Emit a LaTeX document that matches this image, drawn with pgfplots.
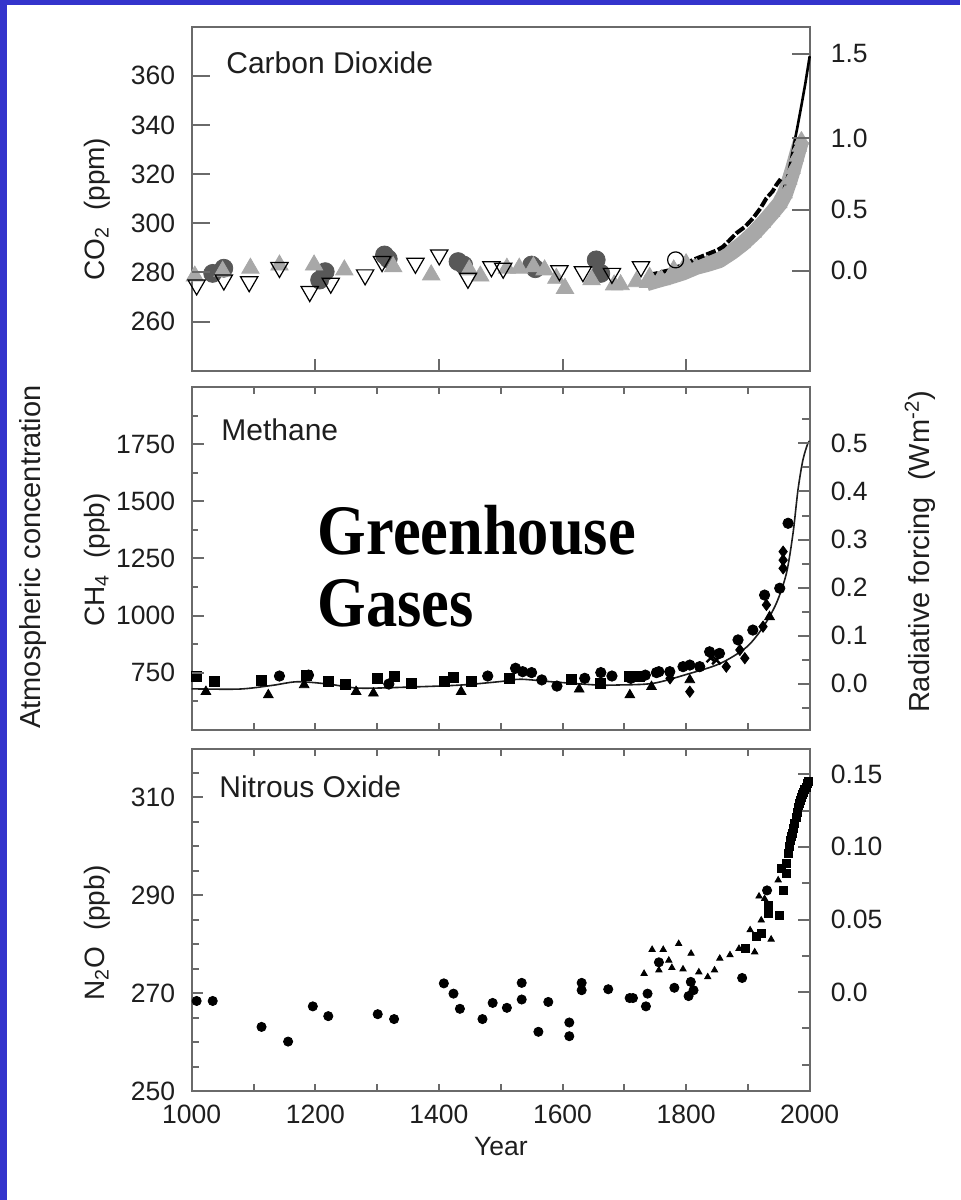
\documentclass[border=0pt]{standalone}
\usepackage{fontspec}
\setmainfont{Liberation Sans}
\newfontfamily\ghfont{Liberation Serif}
\usepackage{graphicx}
\usepackage{pgfplots}
\pgfplotsset{compat=1.18}

\definecolor{slideblue}{HTML}{3434CC}
\definecolor{framecol}{HTML}{6A6A6A}
\definecolor{txt}{HTML}{1E1E1E}
\definecolor{darkdot}{HTML}{585858}
\definecolor{lightdot}{HTML}{A8A8A8}

\newcommand\ticksize{\fontsize{13.25}{15}\selectfont}
\newcommand\labsize{\fontsize{14}{16}\selectfont}

\pgfplotsset{
  panel/.style={scale only axis, width=309pt, xmin=1000, xmax=2000, clip=false,
    axis line style={framecol, line width=1pt},
    every tick/.style={framecol, line width=1pt},
    tick label style={font=\ticksize, text=txt},
    tick align=inside},
  frame/.style={panel, ytick=\empty, xticklabel style={yshift=-3.6pt}},
  lefty/.style={panel, axis line style={draw=none}, xtick=\empty,
    ytick pos=left, yticklabel pos=left, yticklabel style={xshift=-4.8pt}},
  righty/.style={panel, axis line style={draw=none}, xtick=\empty,
    ytick pos=right, yticklabel pos=right, yticklabel style={xshift=7pt}},
}

\begin{document}
\begin{tikzpicture}
\useasboundingbox (0,0) rectangle (480pt,600pt);
\fill[slideblue] (0,0) rectangle (480pt,600pt);
\fill[white] (3.7pt,0) rectangle (480pt,597.5pt);

% ---------------- Carbon dioxide ----------------
\begin{axis}[frame, at={(95.85pt,414.65pt)}, anchor=south west, height=172pt,
  ymin=240, ymax=380, xtick={1200,1400,1600,1800}, xticklabels={},
  xtick pos=left, major tick length=6pt]
\addplot[only marks, mark=*, mark size=4.5pt, mark options={fill=darkdot, draw=darkdot}]
  coordinates {(1034,279.6) (1052,281.7) (1207,276.9) (1216,280.3) (1312,287.1)
  (1318,285.5) (1431,284.4) (1440,283) (1550,283.0) (1556,281.5) (1654.5,285.1) (1662,279.6)};
\addplot[only marks, mark=triangle*, mark size=5pt, mark options={fill=lightdot, draw=lightdot}]
  coordinates {(1005,278.5) (1050,280.5) (1095,281.7) (1142,283) (1198,283) (1247,281)
  (1326,282.3) (1387.5,279) (1449,281) (1467,278.5) (1510,281.7) (1530,281.7)
  (1553,282.3) (1571,281) (1590,277.6) (1604,273.5) (1647,277) (1683.5,274.9)
  (1694,275) (1719.5,276.2) (1741,278) (1760,277) (1780,281) (1800,283.5)};
\addplot[lightdot, line width=8pt, line join=round, mark=triangle*, mark size=4.2pt,
  mark options={fill=lightdot, draw=lightdot, line width=0.4pt}]
  coordinates {(1736,275.6) (1755,277) (1773.6,278.3) (1795,280) (1816.7,282.3)
  (1835,283.5) (1854,285) (1875,288.5) (1892,291.8) (1910,296) (1924.5,300)
  (1940,304.5) (1951.5,308) (1960,312) (1967.6,317.6) (1973,322) (1978.5,327)
  (1983,331) (1986.6,333.9)};
\addplot[black, line width=2pt, dash pattern=on 5pt off 1.2pt]
  coordinates {(1738.5,279) (1750,279.5) (1762.7,280.3) (1775,281) (1787,282.3)
  (1800,283.5) (1811,285.1) (1825,286.5) (1838,287.8) (1850,289) (1860,290.5)
  (1870,293) (1881,295.9) (1895,298.5) (1908,302) (1920,306) (1930,310.2)
  (1940,313) (1946,315.6) (1953,318)};
\addplot[only marks, mark=triangle, mark size=5pt, mark options={rotate=180, draw=black, line width=0.6pt}]
  coordinates {(1008,274.9) (1052,276.9) (1093,276.2) (1142,282) (1191,272.2)
  (1225,275.6) (1280.6,279) (1308,284.4) (1362,283.7) (1400.5,287.1) (1447,277.6)
  (1485,282.3) (1504,281.7) (1595,280.7) (1633,280.3) (1680,279.6) (1727,282.3)};
\addplot[only marks, mark=o, mark size=4pt, mark options={draw=black, line width=0.6pt}]
  coordinates {(1783,285.1)};
\addplot[black, line width=1.3pt]
  coordinates {(1958,314) (1965,320) (1973,330) (1980,339) (1987,348.5) (1993,357) (2000,368)};
\end{axis}
\begin{axis}[lefty, at={(95.85pt,414.65pt)}, anchor=south west, height=172pt,
  ymin=240, ymax=380, ytick={260,280,300,320,340,360},
  yticklabels={260,280,300,320,340,360}, major tick length=9pt]
\end{axis}
\begin{axis}[righty, at={(95.85pt,414.65pt)}, anchor=south west, height=172pt,
  ymin=240, ymax=380, ytick={280.7,305.6,334.5,369},
  yticklabels={0.0,0.5,1.0,1.5}, major tick length=9pt]
\end{axis}

% ---------------- Methane ----------------
\begin{axis}[frame, at={(95.85pt,235pt)}, anchor=south west, height=171.5pt,
  ymin=500, ymax=2000, xtick={1100,1200,...,1900}, xticklabels={},
  xtick pos=both, major tick length=3.5pt]
\addplot[color=txt, line width=0.8pt, smooth, tension=0.5]
  coordinates {(1000,680) (1077,679) (1130,695) (1171,711) (1221,701) (1272,683)
  (1366,689) (1438,697) (1500,712) (1532,722) (1582,711) (1654.5,697) (1692.7,697)
  (1746.6,704) (1800.6,743) (1854.4,790) (1897.6,862) (1924.5,950) (1946,1054)
  (1962.3,1185) (1973,1360) (1981,1549.5) (1989,1680.7) (1997,1753.7) (2000,1762)};
\addplot[only marks, mark=square*, mark size=2.5pt, black]
  coordinates {(1008,733) (1036,711) (1113,719) (1185,740) (1221,711) (1249,700)
  (1301,726) (1328,733) (1355,704) (1409,711) (1424,730) (1452,711) (1514,726)
  (1615,722) (1662,704) (1709,733) (1725,733)};
\addplot[only marks, mark=*, mark size=2.6pt, black]
  coordinates {(1142,736) (1189,740) (1319,701) (1479,736) (1524,770) (1535.5,755)
  (1550,751) (1566.5,719) (1591,692) (1636,726) (1662,751) (1680,736) (1710.5,726)
  (1734,740) (1752,751) (1756,755) (1773.6,755) (1795,777) (1806,784) (1822,777)
  (1838,842) (1854,835) (1884,894) (1908,937) (1927,1090) (1951.5,1120) (1965,1404)};
\addplot[only marks, mark=triangle*, mark size=2.8pt, black]
  coordinates {(1023,667.5) (1124,653) (1182,697) (1266,667.5) (1294,660.5)
  (1436,667.5) (1627,678) (1709,653) (1744,689) (1806,719) (1935,995)};
\addplot[only marks, mark=diamond*, mark size=2.8pt, black]
  coordinates {(1774,726) (1806,667.5) (1865,777) (1895,814) (1930,1047)
  (1957,1207) (1957,1243) (1957,1280) (1924.5,952) (1887,850)};
\addplot[only marks, mark=x, mark size=3pt, black, mark options={line width=1.2pt}]
  coordinates {(1849,806) (1840,815)};
\end{axis}
\begin{axis}[lefty, at={(95.85pt,235pt)}, anchor=south west, height=171.5pt,
  ymin=500, ymax=2000, ytick={750,1000,1250,1500,1750},
  yticklabels={750,1000,1250,1500,1750},
  minor ytick={625,875,1125,1375,1625,1875},
  major tick length=6pt, minor tick length=3pt]
\end{axis}
\begin{axis}[righty, at={(95.85pt,235pt)}, anchor=south west, height=171.5pt,
  ymin=500, ymax=2000, ytick={703,913,1123,1333,1543,1753},
  yticklabels={0.0,0.1,0.2,0.3,0.4,0.5},
  minor ytick={598,808,1018,1228,1438,1648,1858},
  major tick length=6pt, minor tick length=4pt]
\end{axis}

% ---------------- Nitrous oxide ----------------
\begin{axis}[frame, at={(95.85pt,54.5pt)}, anchor=south west, height=171.25pt,
  ymin=250, ymax=320, xtick={1000,1200,...,2000},
  xticklabels={1000,1200,1400,1600,1800,2000},
  minor xtick={1100,1300,1500,1700,1900},
  xtick pos=both, xticklabel pos=left,
  major tick length=3.5pt, minor tick length=3.5pt]
\addplot[only marks, mark=*, mark size=2.3pt, black]
  coordinates {(1008,268.4) (1034,268.4) (1113,263.1) (1156,260.1) (1196,267.3)
  (1221,265.3) (1301,265.7) (1327.5,264.7) (1408,272) (1423.6,269.9) (1434,266.8)
  (1470.5,264.7) (1487,268) (1510,267) (1534,272.1) (1534,268.7) (1561,262.1)
  (1577,268.2) (1611,264) (1611,261.2) (1631,272.1) (1631,270.6) (1674,270.8)
  (1708.7,269) (1714,269) (1735,267.3) (1737.6,269.9) (1756,276.3) (1781,271.1)
  (1804,269.4) (1807.6,272.3) (1812,270.6) (1890.7,273.1) (1931,291)};
\addplot[only marks, mark=triangle*, mark size=1.8pt, black]
  coordinates {(1732,274) (1745,278.9) (1763,278.9) (1756,274.7) (1772,276.7)
  (1788,280.1) (1777,275.2) (1795,274.9) (1808,278.1) (1820.6,274.3) (1835,273.3)
  (1846,274.7) (1854.5,277.1) (1871,277.8) (1885.6,279.1) (1903.6,282.9)
  (1911,278.4) (1921.6,284.9) (1918,289.8) (1927,289.3) (1937.6,281) (1949,293.1)};
\addplot[only marks, mark=square*, mark size=2pt, black]
  coordinates {(1896.5,279.1) (1914,281.5) (1921.6,282.2) (1932.5,286.3) (1932.5,288)
  (1951,285.9) (1954,295.4) (1958,291) (1961.5,294.4) (1963,296.5) (1965,298.5)
  (1967,300) (1968.6,301.2) (1970,302) (1972,302.6) (1974,303.6) (1976,304.6)
  (1978,306) (1979.5,307) (1981,308) (1983,308.7) (1985,309.4) (1987,310)
  (1988.5,310.6) (1990,311.1) (1992,311.6) (1994,312.1) (1996,312.8) (1998,313.2)};
\end{axis}
\begin{axis}[lefty, at={(95.85pt,54.5pt)}, anchor=south west, height=171.25pt,
  ymin=250, ymax=320, ytick={250,270,290,310},
  yticklabels={250,270,290,310},
  minor ytick={255,260,265,275,280,285,295,300,305,315},
  major tick length=5.5pt, minor tick length=3.5pt]
\end{axis}
\begin{axis}[righty, at={(95.85pt,54.5pt)}, anchor=south west, height=171.25pt,
  ymin=250, ymax=320, ytick={270.2,285.05,299.9,314.75},
  yticklabels={0.0,0.05,0.10,0.15},
  minor ytick={255.35,262.78,277.63,292.48,307.33},
  major tick length=6pt, minor tick length=4pt]
\end{axis}

% ---------------- text ----------------
\begin{scope}[every node/.style={text=txt, inner sep=0}]
\node[anchor=base west, font=\fontsize{15}{17}\selectfont] at (113pt,563pt) {Carbon Dioxide};
\node[anchor=base west, font=\fontsize{15}{17}\selectfont] at (110.5pt,379.5pt) {Methane};
\node[anchor=base west, font=\fontsize{15}{17}\selectfont] at (109.5pt,201pt) {Nitrous Oxide};
\node[rotate=90, font=\labsize] at (48.5pt,495.5pt) {CO\textsubscript{2}\ \ (ppm)};
\node[rotate=90, font=\labsize] at (48.5pt,320pt) {CH\textsubscript{4}\ \ (ppb)};
\node[rotate=90, font=\labsize] at (48.5pt,133.5pt) {N\textsubscript{2}O\ \ (ppb)};
\node[rotate=90, font=\fontsize{14.5}{16}\selectfont] at (16.5pt,321.5pt) {Atmospheric concentration};
\node[rotate=90, font=\fontsize{14.5}{16}\selectfont] at (460pt,324pt) {Radiative forcing\ \ (Wm\textsuperscript{-2})};
\node[font=\ticksize] at (250.45pt,26.65pt) {Year};
\node[anchor=base west, text=black] at (158.7pt,322.5pt)
  {\scalebox{0.88}[1]{\ghfont\bfseries\fontsize{35.5}{36}\selectfont Greenhouse}};
\node[anchor=base west, text=black] at (158.7pt,286.65pt)
  {\scalebox{0.88}[1]{\ghfont\bfseries\fontsize{35.5}{36}\selectfont Gases}};
\end{scope}
\end{tikzpicture}
\end{document}
